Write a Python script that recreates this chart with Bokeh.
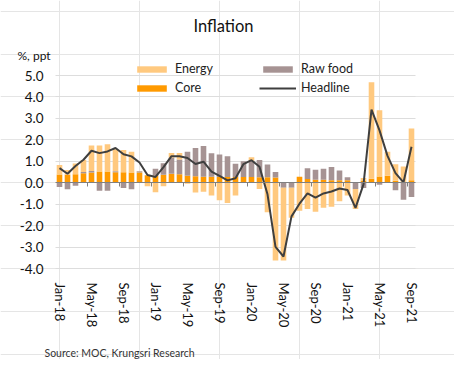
import numpy as np
from bokeh.plotting import figure
from bokeh.models import (ColumnDataSource, Range1d, FixedTicker, LinearAxis, Grid,
                          Legend, LegendItem, Label, NumeralTickFormatter)
from bokeh.embed import file_html
from bokeh.resources import INLINE

# ---------------- data ----------------
years = ["18", "19", "20", "21"]
month_names = ["Jan", "Feb", "Mar", "Apr", "May", "Jun",
               "Jul", "Aug", "Sep", "Oct", "Nov", "Dec"]
months = [f"{m}-{y}" for y in years for m in month_names][:45]

core = [0.38, 0.37, 0.40, 0.44, 0.48, 0.52, 0.52, 0.49, 0.49, 0.48, 0.48, 0.35,
        0.32, 0.37, 0.42, 0.40, 0.33, 0.30, 0.28, 0.28, 0.27, 0.27, 0.27, 0.27,
        0.27, 0.26, 0.26, 0.24, 0.00, 0.03, 0.28, 0.17, 0.14, 0.14, 0.11, 0.11,
        0.11, 0.03, 0.10, 0.18, 0.29, 0.32, 0.09, 0.05, 0.11]
raw_food = [-0.20, -0.30, -0.14, 0.06, 0.07, -0.37, -0.37, 0.05, -0.25, -0.30, 0.05, 0.00,
            0.33, 0.54, 0.75, 0.68, 1.11, 1.32, 1.43, 1.09, 1.05, 0.96, 0.61, 0.73,
            0.75, 0.80, 0.59, 0.26, -0.23, -0.23, 0.00, 0.51, 0.47, 0.51, 0.62, 0.46,
            0.14, -0.29, -0.25, 0.00, -0.10, 0.00, -0.35, -0.79, -0.66]
energy = [0.45, 0.22, 0.50, 0.56, 1.18, 1.21, 1.27, 1.02, 1.04, 0.97, 0.02, -0.17,
          -0.45, -0.17, 0.22, 0.31, -0.05, -0.46, -0.42, -0.60, -0.82, -0.95, -0.60, 0.00,
          0.17, -0.29, -1.38, -3.63, -3.40, -1.40, -1.31, -1.22, -1.35, -1.17, -1.12, -0.86,
          -0.60, -0.93, 0.12, 4.51, 3.09, 1.13, 0.77, 0.71, 2.42]
headline = [0.68, 0.42, 0.78, 1.07, 1.49, 1.38, 1.46, 1.62, 1.33, 1.23, 0.94, 0.36,
            0.27, 0.73, 1.24, 1.23, 1.15, 0.87, 0.98, 0.52, 0.32, 0.11, 0.21, 0.87,
            1.05, 0.74, -0.54, -2.99, -3.44, -1.57, -0.98, -0.50, -0.70, -0.50, -0.41, -0.27,
            -0.34, -1.17, -0.08, 3.41, 2.44, 1.25, 0.45, 0.02, 1.68]

tick_labels = ["Jan-18", "May-18", "Sep-18", "Jan-19", "May-19", "Sep-19",
               "Jan-20", "May-20", "Sep-20", "Jan-21", "May-21", "Sep-21"]
y_ticks = [-4, -3, -2, -1, 0, 1, 2, 3, 4, 5]

# ---------------- stacking (positive up, negative down) ----------------
n = len(months)
x = np.arange(n)
series = {"core": core, "raw": raw_food, "energy": energy}
pos = np.zeros(n)
neg = np.zeros(n)
data = {"x": x, "headline": headline}
for name, vals in series.items():
    v = np.array(vals, dtype=float)
    data[name + "_b"] = np.where(v >= 0, pos, neg + v)
    data[name + "_t"] = np.where(v >= 0, pos + v, neg)
    pos = np.where(v >= 0, pos + v, pos)
    neg = np.where(v < 0, neg + v, neg)
src = ColumnDataSource(data)

FONT = "Lato"
C_ENERGY = "#FFC97F"
C_CORE = "#FF9A00"
C_RAW = "#A69393"
C_LINE = "#3F3F3F"
TXT = "#111111"

# ---------------- canvas / frame geometry ----------------
W, H = 454, 359
PLOT_L, PLOT_R, PLOT_T, PLOT_B = 55, 415, 75, 268      # plotting area in pixels
x_lo, x_hi = -0.5, n - 0.5
y_lo, y_hi = min(y_ticks), max(y_ticks)
px_x = (PLOT_R - PLOT_L) / (x_hi - x_lo)
px_y = (PLOT_B - PLOT_T) / (y_hi - y_lo)
x_range = Range1d(x_lo - PLOT_L / px_x, x_hi + (W - PLOT_R) / px_x)
y_range = Range1d(y_lo - (H - PLOT_B) / px_y, y_hi + PLOT_T / px_y)

p = figure(width=W, height=H, output_backend="svg", toolbar_location=None,
           x_range=x_range, y_range=y_range, x_axis_location=None,
           y_axis_location=None, title=None,
           min_border_left=0, min_border_right=0, min_border_top=0, min_border_bottom=0)
p.outline_line_color = None
p.background_fill_color = "white"
p.border_fill_color = "white"

# grid
ygrid = Grid(dimension=1, ticker=FixedTicker(ticks=y_ticks),
             grid_line_color="#DDDDDD", grid_line_width=1)
try:
    ygrid.cross_bounds = (x_lo, x_hi)
except Exception:
    pass
p.add_layout(ygrid, "center")

w = 0.7
r_core = p.vbar(x="x", bottom="core_b", top="core_t", width=w, source=src,
                fill_color=C_CORE, line_color=None)
r_raw = p.vbar(x="x", bottom="raw_b", top="raw_t", width=w, source=src,
               fill_color=C_RAW, line_color=None)
r_energy = p.vbar(x="x", bottom="energy_b", top="energy_t", width=w, source=src,
                  fill_color=C_ENERGY, line_color=None)
r_line = p.line(x="x", y="headline", source=src, line_color=C_LINE, line_width=2)

# y axis (fixed at left edge of the plotting area)
yaxis = LinearAxis(fixed_location=x_lo, ticker=FixedTicker(ticks=y_ticks),
                   formatter=NumeralTickFormatter(format="0.0"))
yaxis.axis_line_color = None
yaxis.major_tick_line_color = None
yaxis.major_tick_out = 0
yaxis.major_tick_in = 0
yaxis.minor_tick_line_color = None
yaxis.major_label_standoff = 12
yaxis.major_label_text_font = FONT
yaxis.major_label_text_font_size = "13.5px"
yaxis.major_label_text_color = TXT
p.add_layout(yaxis, "left")

# x axis labels (fixed at bottom of the plotting area)
tick_pos = list(range(0, n, 4))
xaxis = LinearAxis(fixed_location=y_lo, ticker=FixedTicker(ticks=tick_pos))
xaxis.major_label_overrides = {t: lab for t, lab in zip(tick_pos, tick_labels)}
xaxis.major_label_orientation = "vertical"
xaxis.axis_line_color = None
xaxis.major_tick_line_color = None
xaxis.major_tick_out = 0
xaxis.major_tick_in = 0
xaxis.minor_tick_line_color = None
xaxis.major_label_standoff = 14
xaxis.major_label_text_font = FONT
xaxis.major_label_text_font_size = "13px"
xaxis.major_label_text_color = TXT
p.add_layout(xaxis, "below")

# zero line with small ticks at group boundaries
zero_axis = LinearAxis(fixed_location=0, bounds=(x_lo, x_hi),
                       ticker=FixedTicker(ticks=[t + 3.5 for t in tick_pos[:-1]]))
zero_axis.axis_line_color = "#808080"
zero_axis.axis_line_width = 1
zero_axis.major_tick_line_color = "#808080"
zero_axis.major_tick_out = 4
zero_axis.major_tick_in = 0
zero_axis.minor_tick_line_color = None
zero_axis.major_label_text_font_size = "0px"
zero_axis.major_label_text_alpha = 0
p.add_layout(zero_axis, "below")

# legend
legend = Legend(items=[
    LegendItem(label="Energy", renderers=[r_energy]),
    LegendItem(label="Raw food", renderers=[r_raw]),
    LegendItem(label="Core", renderers=[r_core]),
    LegendItem(label="Headline", renderers=[r_line]),
], orientation="horizontal", ncols=2, location=(133, H - 95))
legend.glyph_width = 37
legend.glyph_height = 8
legend.label_standoff = 5
legend.label_width = 80
legend.label_height = 15
legend.spacing = 4
legend.padding = 0
legend.margin = 0
legend.border_line_color = None
legend.background_fill_alpha = 0
legend.label_text_font = FONT
legend.label_text_font_size = "12.5px"
legend.label_text_color = "#222222"
p.add_layout(legend, "center")

# texts (screen units, origin at bottom-left of canvas)
p.add_layout(Label(x=223, y=H - 25, x_units="screen", y_units="screen", text="Inflation",
                   text_font=FONT, text_font_size="16.5px", text_color=TXT,
                   text_align="center", text_baseline="middle"))
p.add_layout(Label(x=17, y=H - 55, x_units="screen", y_units="screen", text="%, ppt",
                   text_font=FONT, text_font_size="12px", text_color=TXT,
                   text_align="left", text_baseline="middle"))
p.add_layout(Label(x=44, y=H - 352, x_units="screen", y_units="screen",
                   text="Source:  MOC, Krungsri Research",
                   text_font=FONT, text_font_size="10.5px", text_color="#333333",
                   text_align="left", text_baseline="middle"))

open("out.html", "w").write(file_html(p, INLINE))
